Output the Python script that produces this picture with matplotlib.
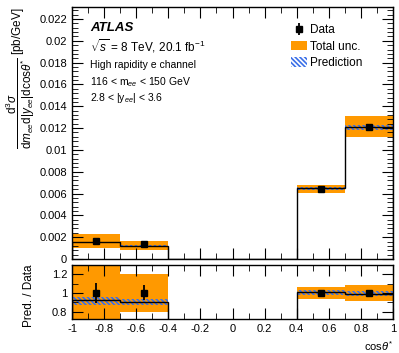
import numpy as np
import matplotlib.pyplot as plt
from matplotlib.patches import Patch
from matplotlib.ticker import MultipleLocator

plt.rcParams['font.family'] = ['Liberation Sans', 'DejaVu Sans']
plt.rcParams['mathtext.fontset'] = 'custom'
plt.rcParams['mathtext.rm'] = 'Liberation Sans'
plt.rcParams['mathtext.it'] = 'Liberation Sans:italic'
plt.rcParams['mathtext.bf'] = 'Liberation Sans:bold'
plt.rcParams['hatch.linewidth'] = 1.2

# bin edges in cos(theta*)
edges = [-1.0, -0.7, -0.4, 0.4, 0.7, 1.0]
# prediction (step line), middle bin is empty
pred = [0.00153, 0.00122, 0.0, 0.00648, 0.01207]

# bins with data
bin_lo = [-1.0, -0.7, 0.4, 0.7]
bin_hi = [-0.7, -0.4, 0.7, 1.0]
bin_mid = [-0.85, -0.55, 0.55, 0.85]
data = [0.00165, 0.00135, 0.00639, 0.01213]
data_err = [0.00017, 0.00011, 0.00006, 0.00010]
tot_lo = [0.00104, 0.00083, 0.00602, 0.01116]
tot_hi = [0.00229, 0.00165, 0.00678, 0.01311]
pred_lo = [0.00145, 0.00115, 0.00635, 0.01185]
pred_hi = [0.00160, 0.00128, 0.00660, 0.01225]

# ratio panel
ratio_pred = [0.92, 0.90, 1.01, 0.99]
ratio_data_err = [0.11, 0.08, 0.01, 0.01]
ratio_tot_lo = [0.64, 0.80, 0.94, 0.91]
ratio_tot_hi = [1.39, 1.20, 1.06, 1.08]
ratio_pred_lo = [0.87, 0.87, 0.98, 0.97]
ratio_pred_hi = [0.96, 0.94, 1.03, 1.02]

orange = '#ff9900'
blue = '#3a6fe8'
hatch = '\\' * 7

fig = plt.figure(figsize=(3.99, 3.53), dpi=100)
ax = fig.add_axes([0.1805, 0.2663, 0.8045, 0.7139])
axr = fig.add_axes([0.1805, 0.0963, 0.8045, 0.1530])

for i in range(len(data)):
    ax.fill_between([bin_lo[i], bin_hi[i]], tot_lo[i], tot_hi[i], color=orange, lw=0)
    ax.fill_between([bin_lo[i], bin_hi[i]], pred_lo[i], pred_hi[i], facecolor='none',
                    edgecolor=blue, hatch=hatch, lw=0)
    axr.fill_between([bin_lo[i], bin_hi[i]], ratio_tot_lo[i], ratio_tot_hi[i], color=orange, lw=0)
    axr.fill_between([bin_lo[i], bin_hi[i]], ratio_pred_lo[i], ratio_pred_hi[i], facecolor='none',
                     edgecolor=blue, hatch=hatch, lw=0)

ax.stairs(pred, edges, color='black', lw=1.0)
ax.errorbar(bin_mid, data, yerr=data_err, fmt='s', color='black', ms=5, lw=1.3, capsize=0)

axr.stairs(ratio_pred[:2], edges[:3], color='black', lw=1.0)
axr.stairs(ratio_pred[2:], edges[3:], color='black', lw=1.0)
axr.errorbar(bin_mid, [1, 1, 1, 1], yerr=ratio_data_err, fmt='s', color='black', ms=5, lw=1.3, capsize=0)

for a in (ax, axr):
    a.set_xlim(-1, 1)
    a.xaxis.set_major_locator(MultipleLocator(0.2))
    a.xaxis.set_minor_locator(MultipleLocator(0.1))
    a.tick_params(which='both', direction='in', top=True, right=True, labelsize=8)
    a.tick_params(which='major', length=8)
    a.tick_params(which='minor', length=4)
    for s in a.spines.values():
        s.set_linewidth(1.0)

ax.set_ylim(0, 0.0231)
ax.yaxis.set_minor_locator(MultipleLocator(0.0004))
ax.set_yticks(np.arange(0, 0.0221, 0.002))
ax.set_yticklabels(['0'] + ['%g' % v for v in np.arange(0.002, 0.0221, 0.002)])
ax.tick_params(labelbottom=False)

axr.set_ylim(0.72, 1.3)
axr.set_yticks([0.8, 1.0, 1.2])
axr.set_yticklabels(['0.8', '1', '1.2'])
axr.yaxis.set_minor_locator(MultipleLocator(0.1))
axr.set_xticks(np.arange(-1, 1.01, 0.2))
axr.set_xticklabels(['-1', '-0.8', '-0.6', '-0.4', '-0.2', '0', '0.2', '0.4', '0.6', '0.8', '1'])

ax.set_ylabel(r'$\dfrac{\mathrm{d}^3\sigma}{\mathrm{d}m_{ee}\mathrm{d}|y_{ee}|\mathrm{dcos}\theta^{*}}$ [pb/GeV]',
              fontsize=8.5, loc='top', labelpad=2)
axr.set_ylabel('Pred. / Data', fontsize=8.5, loc='top', labelpad=12)
axr.set_xlabel(r'cos$\theta^{*}$', fontsize=8, loc='right', labelpad=4)

ax.text(0.056, 0.915, 'ATLAS', transform=ax.transAxes, fontsize=9.5, fontweight='bold',
        style='italic', va='center')
ax.text(0.056, 0.843, r'$\sqrt{s}$ = 8 TeV, 20.1 fb$^{-1}$', transform=ax.transAxes, fontsize=8.5, va='center')
ax.text(0.056, 0.770, 'High rapidity e channel', transform=ax.transAxes, fontsize=7.5, va='center')
ax.text(0.056, 0.702, r'116 < m$_{ee}$ < 150 GeV', transform=ax.transAxes, fontsize=7.5, va='center')
ax.text(0.056, 0.639, r'2.8 < |y$_{ee}$| < 3.6', transform=ax.transAxes, fontsize=7.5, va='center')

handles = [
    ax.errorbar([], [], yerr=[], fmt='s', color='black', ms=5, lw=1.3),
    Patch(facecolor=orange, edgecolor='none'),
    Patch(facecolor='white', edgecolor=blue, hatch=hatch, lw=0),
]
ax.legend(handles, ['Data', 'Total unc.', 'Prediction'], loc='upper left',
          bbox_to_anchor=(0.654, 0.968), frameon=False, fontsize=8.5,
          handlelength=1.3, handleheight=0.9, handletextpad=0.3, labelspacing=0.35,
          borderaxespad=0.4)

fig.savefig('out.png', dpi=100)
